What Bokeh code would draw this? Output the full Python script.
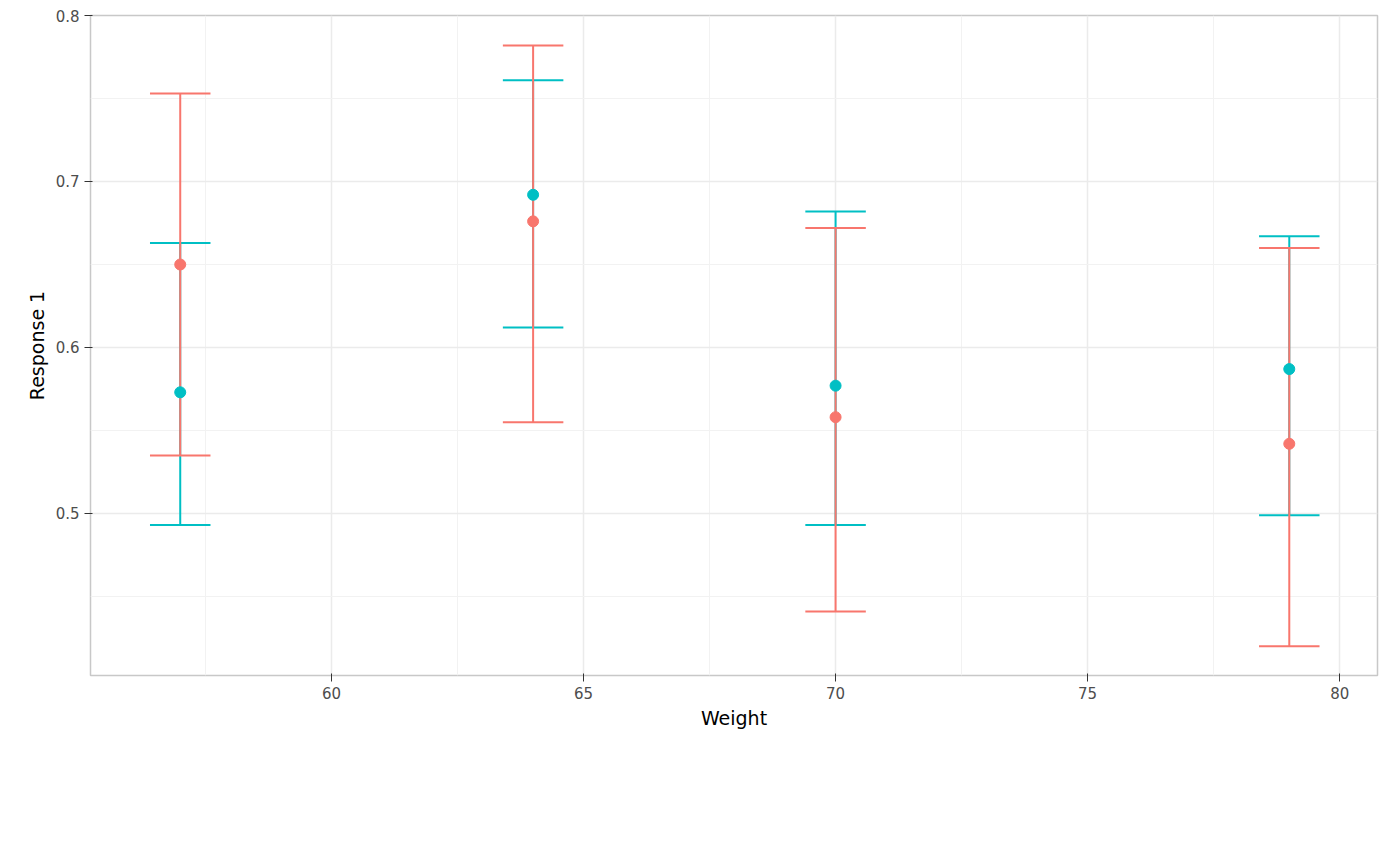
from bokeh.plotting import figure
from bokeh.models import Legend, LegendItem, ColumnDataSource, Range1d, FixedTicker
from bokeh.embed import file_html
from bokeh.resources import INLINE

weight = [57, 64, 70, 79]
obs_mean = [0.650, 0.676, 0.558, 0.542]
obs_lo = [0.535, 0.555, 0.441, 0.420]
obs_hi = [0.753, 0.782, 0.672, 0.660]
sim_mean = [0.573, 0.692, 0.577, 0.587]
sim_lo = [0.493, 0.612, 0.493, 0.499]
sim_hi = [0.663, 0.761, 0.682, 0.667]
xticks = [60, 65, 70, 75, 80]
xminor = [57.5, 62.5, 67.5, 72.5, 77.5]
yticks = [0.5, 0.6, 0.7, 0.8]
yminor = [0.45, 0.55, 0.65, 0.75]
cap = 0.6

p = figure(frame_width=1287, frame_height=660, output_backend="svg", toolbar_location=None,
           x_range=Range1d(55.22, 80.75), y_range=Range1d(0.4024, 0.8),
           min_border_left=90, min_border_top=15, min_border_right=8, min_border_bottom=0)
p.outline_line_color = "#C8C8C8"
p.outline_line_width = 1.5
p.background_fill_color = "white"
for ax in (p.xaxis, p.yaxis):
    ax.axis_line_color = None
    ax.major_tick_line_color = "#333333"
    ax.minor_tick_line_color = None
    ax.major_label_text_color = "#4D4D4D"
    ax.major_label_text_font_size = "15px"
    ax.axis_label_text_font_size = "19px"
    ax.axis_label_text_color = "black"
    ax.axis_label_text_font_style = "normal"
    ax.major_label_text_font = "DejaVu Sans"
    ax.axis_label_text_font = "DejaVu Sans"
p.xaxis.axis_label = "Weight"
p.yaxis.axis_label = "Response 1"
p.xaxis.ticker = FixedTicker(ticks=xticks, minor_ticks=xminor)
p.yaxis.ticker = FixedTicker(ticks=yticks, minor_ticks=yminor)
p.xgrid.ticker = p.xaxis.ticker
p.ygrid.ticker = p.yaxis.ticker
for g in (p.xgrid, p.ygrid):
    g.grid_line_color = "#EBEBEB"
    g.grid_line_width = 1.5
    g.minor_grid_line_color = "#F2F2F2"
    g.minor_grid_line_width = 1

series = [("Observed", obs_mean, obs_lo, obs_hi, "#F8766D"),
          ("Simulated", sim_mean, sim_lo, sim_hi, "#00BFC4")]
lines = {}
for name, m, lo, hi, col in series[::-1]:
    src = ColumnDataSource(dict(x=weight, lo=lo, hi=hi,
                                xl=[w - cap for w in weight], xr=[w + cap for w in weight]))
    lines[name] = p.segment("x", "lo", "x", "hi", source=src, line_color=col, line_width=2)
    p.segment("xl", "lo", "xr", "lo", source=src, line_color=col, line_width=2)
    p.segment("xl", "hi", "xr", "hi", source=src, line_color=col, line_width=2)
pts = {}
for name, m, lo, hi, col in series:
    pts[name] = p.scatter(weight, m, size=11, color=col)

dummy = p.scatter([60], [0.6], alpha=0)
leg_items = [LegendItem(label="Source", renderers=[dummy])]
for name, *_ in series:
    leg_items.append(LegendItem(label=name, renderers=[lines[name], pts[name]]))
leg = Legend(items=leg_items, orientation="horizontal", location="center",
             border_line_color=None, label_text_font_size="17px", label_text_font="DejaVu Sans",
             glyph_width=30, spacing=10, margin=40, padding=0)
p.add_layout(leg, "below")

open("out.html", "w").write(file_html(p, INLINE))
